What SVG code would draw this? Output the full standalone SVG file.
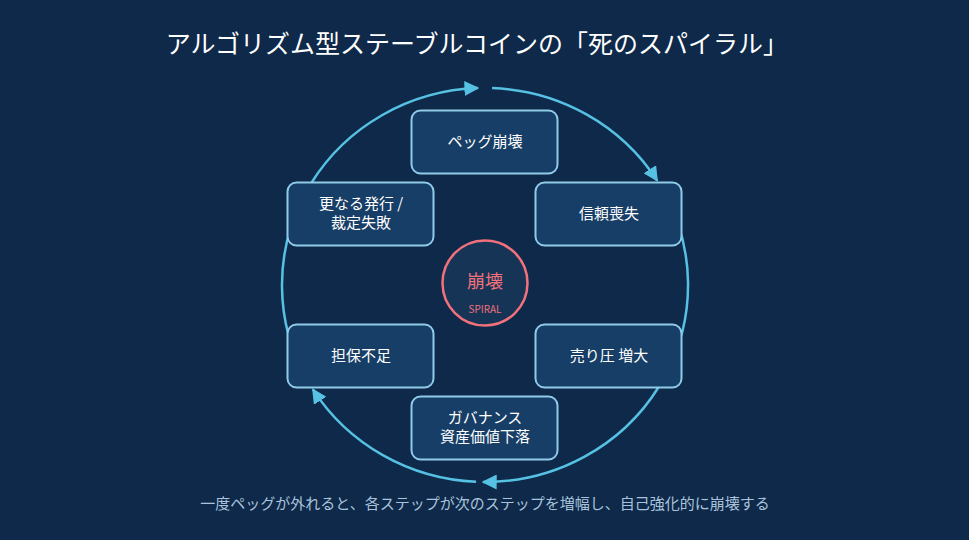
<svg xmlns="http://www.w3.org/2000/svg" width="969" height="540" viewBox="0 0 969 540">
<defs>
<style>
text{font-family:"Noto Sans CJK JP","Noto Sans",sans-serif;text-anchor:middle}
.box{fill:#173e66;stroke:#8fcbe8;stroke-width:2}
.lbl{fill:#ffffff;font-size:15px}
.arc{fill:none;stroke:#56c1e3;stroke-width:2.5;marker-end:url(#ah)}
</style>
<marker id="ah" viewBox="0 0 10 10" refX="9" refY="5" markerWidth="6" markerHeight="6" orient="auto" markerUnits="strokeWidth"><path d="M0,0L10,5L0,10z" fill="#56c1e3"/></marker>
</defs>
<rect width="969" height="540" fill="#0e2949"/>
<text x="477" y="53" fill="#ffffff" font-size="25">アルゴリズム型ステーブルコインの「死のスパイラル」</text>
<g id="connectors">
<path class="arc" d="M311,183.5 A203,197 0 0 1 477.9,88.1"/>
<path class="arc" d="M492.1,88.1 A203,197 0 0 1 657.1,180.6"/>
<path class="arc" d="M662.6,189.5 A203,197 0 0 1 665.9,374.4"/>
<path class="arc" d="M659,386.5 A203,197 0 0 1 483.2,482"/>
<path class="arc" d="M476.1,481.8 A203,197 0 0 1 312.9,389.4"/>
<path class="arc" d="M307.4,380.5 A203,197 0 0 1 305.8,192.5"/>
</g>
<g id="center"><circle cx="485" cy="283" r="42.5" fill="#163456" stroke="#f2717c" stroke-width="2.5"/>
<text x="485" y="288" fill="#f2717c" font-size="18">崩壊</text>
<text x="485" y="313" fill="#f2717c" font-size="10" font-family="Liberation Sans,sans-serif">SPIRAL</text></g>
<g id="n1"><rect class="box" x="411.5" y="110.5" width="146" height="63" rx="9"/><text class="lbl" x="485" y="147">ペッグ崩壊</text></g>
<g id="n2"><rect class="box" x="535.5" y="182.5" width="146" height="63" rx="9"/><text class="lbl" x="609" y="219">信頼喪失</text></g>
<g id="n3"><rect class="box" x="535.5" y="324.5" width="146" height="63" rx="9"/><text class="lbl" x="609" y="361">売り圧 増大</text></g>
<g id="n4"><rect class="box" x="411.5" y="396.5" width="146" height="63" rx="9"/><text class="lbl" x="485" y="423">ガバナンス</text><text class="lbl" x="485" y="442">資産価値下落</text></g>
<g id="n5"><rect class="box" x="287.5" y="324.5" width="146" height="63" rx="9"/><text class="lbl" x="361" y="361">担保不足</text></g>
<g id="n6"><rect class="box" x="287.5" y="182.5" width="146" height="63" rx="9"/><text class="lbl" x="361" y="209">更なる発行 /</text><text class="lbl" x="361" y="228">裁定失敗</text></g>
<text x="485" y="509" fill="#a9c3dc" font-size="15">一度ペッグが外れると、各ステップが次のステップを増幅し、自己強化的に崩壊する</text>
</svg>
